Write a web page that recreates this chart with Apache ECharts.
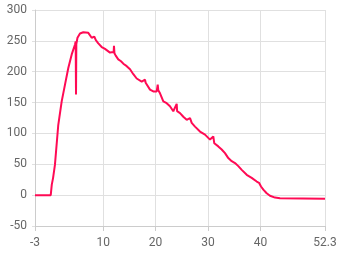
<!DOCTYPE html>
<html><head><meta charset="utf-8">
<script src="https://cdn.jsdelivr.net/npm/echarts@6/dist/echarts.min.js"></script>
<style>html,body{margin:0;padding:0;background:#fff}#c{width:340px;height:255px}</style>
</head><body><div id="c"></div>
<script>
const xValues = [-3, 0, 0.2, 0.45, 0.8, 1.44, 2.09, 2.72, 3.35, 4.0, 4.63, 4.76, 4.82, 4.88, 5.1, 5.58, 6.21, 7.16, 7.5, 7.81, 8.31, 8.44, 8.6, 9.07, 9.72, 10.35, 10.67, 11.3, 11.63, 12.0, 12.06, 12.15, 12.39, 12.88, 13.4, 13.84, 14.49, 14.79, 15.12, 15.75, 16.39, 17.35, 17.98, 18.1, 18.93, 19.56, 20.21, 20.4, 20.51, 20.84, 21.47, 22.11, 22.74, 23.37, 24.02, 24.1, 24.65, 25.28, 25.93, 26.56, 26.88, 27.51, 28.46, 29.42, 30.37, 31.0, 31.19, 31.95, 32.6, 33.23, 33.86, 34.51, 35.14, 35.77, 36.42, 37.37, 38.32, 39.28, 39.72, 40.1, 40.54, 41.18, 41.81, 42.14, 42.77, 43.72, 52.3];
const yValues = [0, 0, 17, 28, 49, 114, 152, 179, 206, 228, 244, 249, 163, 245, 255, 262, 264, 263, 260, 255, 257, 260, 251, 246, 240, 237, 234, 231, 230, 232, 242, 230, 226, 220, 217, 213, 209, 210, 204, 196, 189, 184, 187, 182, 171, 168, 168, 179, 170, 165, 152, 149, 144, 136, 148, 136, 133, 127, 122, 125, 117, 111, 103, 98, 90, 95, 84, 79, 74, 68, 60, 55, 52, 47, 41, 33, 28, 22, 20, 14, 9, 3, -1, -3, -4, -5, -6];
const xTicks = [-3, 10, 20, 30, 40, 52.3];
const yMin = -50, yMax = 300, yStep = 50;

const data = xValues.map((x, i) => [x, yValues[i]]);
const chart = echarts.init(document.getElementById('c'), null, {renderer: 'canvas'});
chart.setOption({
  animation: false,
  grid: {left: 35, right: 15, top: 10, bottom: 29, containLabel: false},
  xAxis: {
    type: 'value', min: -3, max: 52.3,
    axisLine: {show: true, onZero: false, lineStyle: {color: '#cccccc'}},
    axisTick: {show: true, length: 5, customValues: xTicks, lineStyle: {color: '#cccccc'}},
    axisLabel: {customValues: xTicks, color: '#666', fontSize: 12, margin: 11, fontFamily: 'Roboto'},
    splitLine: {show: true, lineStyle: {color: '#e0e0e0'}}
  },
  yAxis: {
    type: 'value', min: yMin, max: yMax, interval: yStep,
    axisLine: {show: true, onZero: false, lineStyle: {color: '#cccccc'}},
    axisTick: {show: true, length: 3, lineStyle: {color: '#e0e0e0'}},
    axisLabel: {color: '#666', fontSize: 12, margin: 8, fontFamily: 'Roboto'},
    splitLine: {show: true, lineStyle: {color: '#e0e0e0'}}
  },
  series: [{
    type: 'line', data: data, showSymbol: false, symbol: 'none',
    lineStyle: {color: '#ff0a54', width: 2}
  }]
});
</script></body></html>
